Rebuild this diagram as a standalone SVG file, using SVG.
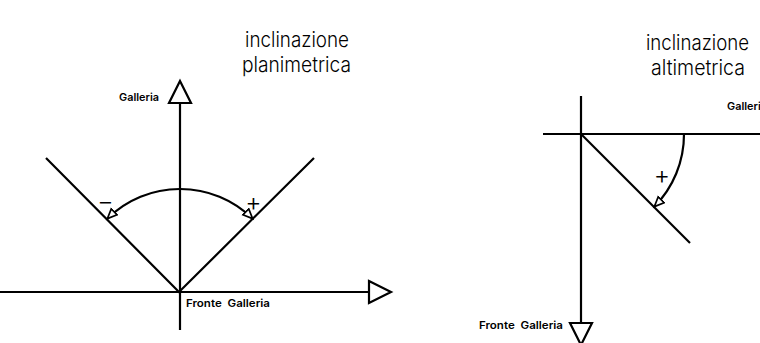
<svg xmlns="http://www.w3.org/2000/svg" width="760" height="343" viewBox="0 0 760 343">
<defs>
<style>
.l{fill:none;stroke:#000;stroke-width:2.2;stroke-linecap:butt}
.h{fill:#fff;stroke:#000;stroke-width:2.2}
.t{font-family:"Inter","Noto Sans",sans-serif;font-size:21px;font-weight:300;fill:#000}
.s{font-family:"Inter","Liberation Sans",sans-serif;font-size:10.5px;font-weight:600;fill:#000;white-space:pre}
.p{font-family:"Inter","Liberation Sans",sans-serif;font-size:25px;font-weight:300;fill:#000;text-anchor:middle}
</style>
<marker id="ah" markerUnits="userSpaceOnUse" markerWidth="14" markerHeight="12" refX="11" refY="5" orient="auto">
<path d="M0.8 0.8 L10.5 5 L0.8 9.2 Z" fill="#fff" stroke="#000" stroke-width="1.7"/>
</marker>
</defs>
<rect width="760" height="343" fill="#fff"/>
<g id="connectors">
<path class="l" d="M180 103V330"/>
<path class="l" d="M0 292H369"/>
<path class="l" d="M46 158L179 292L314 158"/>
<path class="l" marker-end="url(#ah)" d="M180 189A103 103 0 0 0 107 219"/>
<path class="l" marker-end="url(#ah)" d="M180 189A103 103 0 0 1 253 219"/>
<path class="l" d="M581 96V323"/>
<path class="l" d="M543 134H760"/>
<path class="l" d="M581 134L690 243"/>
<path class="l" marker-end="url(#ah)" d="M684 134A103 103 0 0 1 654 207"/>
</g>
<g id="arrow-galleria-left"><path class="h" d="M180 81L191 103H169Z"/></g>
<g id="arrow-fronte-left"><path class="h" d="M369 281L391 292L369 303Z"/></g>
<g id="arrow-fronte-right"><path class="h" d="M570 323H592L581 345Z"/></g>
<g id="title-left">
<text class="t" x="245" y="47" textLength="104" lengthAdjust="spacingAndGlyphs">inclinazione</text>
<text class="t" x="242" y="71.5" textLength="109" lengthAdjust="spacingAndGlyphs">planimetrica</text>
</g>
<g id="title-right">
<text class="t" x="646" y="50" textLength="103" lengthAdjust="spacingAndGlyphs">inclinazione</text>
<text class="t" x="651" y="75" textLength="94" lengthAdjust="spacingAndGlyphs">altimetrica</text>
</g>
<g id="labels">
<text class="s" x="119" y="101" textLength="40" lengthAdjust="spacingAndGlyphs">Galleria</text>
<text class="s" x="186" y="307" textLength="84" lengthAdjust="spacingAndGlyphs" xml:space="preserve">Fronte  Galleria</text>
<text class="s" x="479" y="329" textLength="84" lengthAdjust="spacingAndGlyphs" xml:space="preserve">Fronte  Galleria</text>
<text class="s" x="727" y="110" textLength="40" lengthAdjust="spacingAndGlyphs">Galleria</text>
<text class="p" x="105.5" y="210">−</text>
<text class="p" x="253.5" y="211">+</text>
<text class="p" x="662" y="184">+</text>
</g>
</svg>
